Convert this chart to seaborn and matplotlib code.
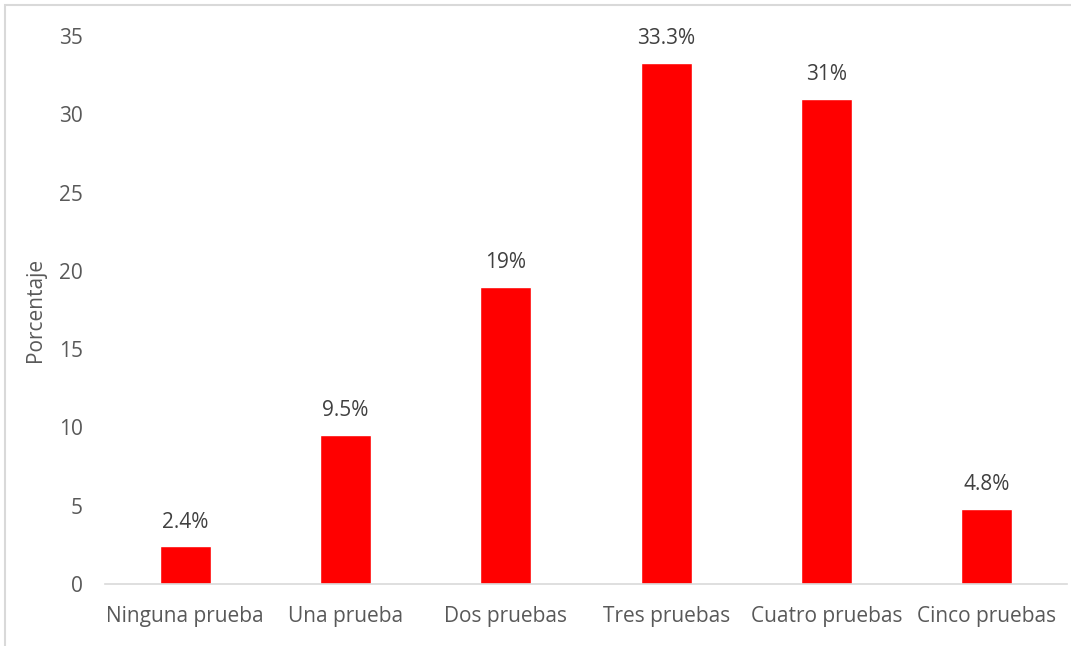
import matplotlib
matplotlib.use("Agg")
import matplotlib.pyplot as plt
import seaborn as sns
import pandas as pd
from matplotlib.patches import Rectangle

categorias = ["Ninguna prueba", "Una prueba", "Dos pruebas", "Tres pruebas",
              "Cuatro pruebas", "Cinco pruebas"]
porcentajes = [2.4, 9.5, 19, 33.3, 31, 4.8]
etiquetas = ["2.4%", "9.5%", "19%", "33.3%", "31%", "4.8%"]
yticks = [0, 5, 10, 15, 20, 25, 30, 35]

sns.set_theme(style="white")
plt.rcParams["font.family"] = ["Open Sans", "DejaVu Sans"]

df = pd.DataFrame({"categoria": categorias, "porcentaje": porcentajes})

fig = plt.figure(figsize=(10.71, 6.46), dpi=100)
ax = fig.add_axes([105 / 1071, 62 / 646, 962 / 1071, 548 / 646])

sns.barplot(data=df, x="categoria", y="porcentaje", color="#ff0000",
            saturation=1, width=0.32, ax=ax)

for i, (v, t) in enumerate(zip(porcentajes, etiquetas)):
    ax.annotate(t, (i, v), xytext=(0, 10), textcoords="offset points",
                ha="center", va="bottom", fontsize=15, color="#404040")

ax.set_ylim(0, 35)
ax.set_xlim(-0.5, len(categorias) - 0.5)
ax.set_yticks(yticks)
ax.set_yticklabels([str(t) for t in yticks])
ax.tick_params(axis="both", length=0, labelsize=15, labelcolor="#595959")
ax.tick_params(axis="y", pad=16)
ax.tick_params(axis="x", pad=15.5)
ax.set_xlabel("")
ax.set_ylabel("Porcentaje", fontsize=15, color="#595959", labelpad=9)

for side in ["top", "right", "left"]:
    ax.spines[side].set_visible(False)
ax.spines["bottom"].set_color("#d9d9d9")
ax.spines["bottom"].set_linewidth(1.2)

# chart frame
fig.patches.append(Rectangle((5 / 1071, -0.1), 1.2, (646 - 5) / 646 + 0.1,
                             transform=fig.transFigure, fill=False,
                             edgecolor="#d9d9d9", linewidth=1.5))

fig.savefig("out.png", dpi=100)
